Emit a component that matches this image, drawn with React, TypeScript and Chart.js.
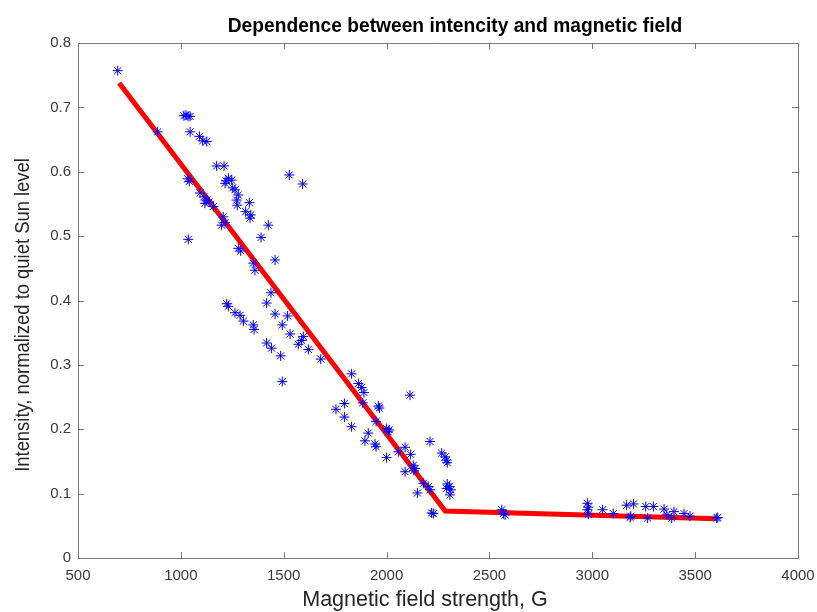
import React, { useEffect, useRef } from "react";
import { Chart, registerables } from "chart.js";

Chart.register(...registerables);

// Measured points: magnetic field strength (G) and normalized intensity
const fieldX = [
  693, 887, 1015, 1025, 1035, 1045, 1045, 1090, 1106, 1126, 1174, 1210, 1033, 1041, 1220, 1231,
  1247, 1215, 1252, 1263, 1279, 1271, 1274, 1093, 1112, 1126, 1117, 1137, 1158, 1333, 1315, 1340,
  1336, 1206, 1198, 1215, 1425, 1390, 1036, 1527, 1592, 1279, 1291, 1352, 1360, 1458, 1438, 1417,
  1223, 1231, 1263, 1288, 1304, 1352, 1356, 1458, 1519, 1493, 1531, 1595, 1587, 1571, 1620, 1417,
  1441, 1485, 1493, 1680, 1830, 1863, 1879, 1890, 1884, 1754, 1795, 1795, 1960, 1965, 2114, 1830,
  1949, 1911, 1895, 1944, 1949, 2000, 2008, 2013, 2000, 2057, 2090, 2117, 2090, 2130, 2138, 2133,
  2211, 2268, 2284, 2292, 2295, 2179, 2203, 2211, 2150, 2219, 2227, 2295, 2305, 2292, 2313, 2308,
  2560, 2568, 2576, 2976, 2981, 2976, 2981, 3050, 3102, 3167, 3200, 3187, 3184, 3260, 3297, 3269,
  3349, 3362, 3386, 3397, 3446, 3475, 3605, 3610,
];
const intensityY = [
  0.757, 0.662, 0.687, 0.688, 0.686, 0.686, 0.662, 0.655, 0.648, 0.647, 0.609, 0.609, 0.589, 0.585, 0.586, 0.59,
  0.587, 0.582, 0.575, 0.572, 0.564, 0.556, 0.548, 0.567, 0.561, 0.556, 0.551, 0.553, 0.546, 0.552, 0.538, 0.533,
  0.528, 0.53, 0.517, 0.521, 0.517, 0.498, 0.495, 0.595, 0.581, 0.481, 0.477, 0.458, 0.447, 0.463, 0.412, 0.396,
  0.395, 0.391, 0.381, 0.377, 0.368, 0.362, 0.355, 0.379, 0.376, 0.362, 0.348, 0.344, 0.338, 0.332, 0.324, 0.334,
  0.326, 0.314, 0.274, 0.309, 0.286, 0.271, 0.265, 0.257, 0.241, 0.231, 0.24, 0.219, 0.236, 0.233, 0.253, 0.204,
  0.212, 0.194, 0.182, 0.177, 0.173, 0.201, 0.196, 0.199, 0.156, 0.165, 0.172, 0.161, 0.134, 0.144, 0.139, 0.136,
  0.181, 0.163, 0.157, 0.152, 0.148, 0.116, 0.111, 0.106, 0.101, 0.07, 0.069, 0.115, 0.111, 0.108, 0.106, 0.098,
  0.075, 0.069, 0.067, 0.085, 0.079, 0.075, 0.068, 0.075, 0.069, 0.082, 0.084, 0.065, 0.063, 0.08, 0.08, 0.062,
  0.076, 0.067, 0.062, 0.072, 0.069, 0.065, 0.062, 0.063,
];

// Piecewise linear fit
const fitX = [700, 2285, 3605];
const fitY = [0.738, 0.073, 0.061];

// Axis ticks
const xTicks = [500, 1000, 1500, 2000, 2500, 3000, 3500, 4000];
const xTickLabels = ["500", "1000", "1500", "2000", "2500", "3000", "3500", "4000"];
const yTicks = [0, 0.1, 0.2, 0.3, 0.4, 0.5, 0.6, 0.7, 0.8];
const yTickLabels = ["0", "0.1", "0.2", "0.3", "0.4", "0.5", "0.6", "0.7", "0.8"];

const titleText = "Dependence between intencity and magnetic field";
const xTitle = "Magnetic field strength, G";
const yTitle = "Intensity, normalized to quiet Sun level";

const SANS = "'Liberation Sans', Arial, sans-serif";
const AXIS_COLOR = "#7a7a7a";

const boxPlugin = {
  id: "boxAndInnerTicks",
  afterDatasetsDraw(chart: any) {
    const { ctx, chartArea } = chart;
    const { left, right, top, bottom } = chartArea;
    const xs = chart.scales.x;
    const ys = chart.scales.y;
    const tl = 6;
    ctx.save();
    ctx.strokeStyle = AXIS_COLOR;
    ctx.lineWidth = 1;
    ctx.beginPath();
    ctx.rect(Math.round(left) + 0.5, Math.round(top) + 0.5, Math.round(right - left), Math.round(bottom - top));
    for (const v of xTicks) {
      const px = Math.round(xs.getPixelForValue(v)) + 0.5;
      ctx.moveTo(px, bottom);
      ctx.lineTo(px, bottom - tl);
      ctx.moveTo(px, top);
      ctx.lineTo(px, top + tl);
    }
    for (const v of yTicks) {
      const py = Math.round(ys.getPixelForValue(v)) + 0.5;
      ctx.moveTo(left, py);
      ctx.lineTo(left + tl, py);
      ctx.moveTo(right, py);
      ctx.lineTo(right - tl, py);
    }
    ctx.stroke();
    ctx.restore();
  },
};

// Title and axis titles, drawn with slight horizontal condensation (MATLAB-like narrow font)
const textPlugin = {
  id: "titles",
  afterDraw(chart: any) {
    const { ctx } = chart;
    ctx.save();
    ctx.textAlign = "center";
    ctx.textBaseline = "alphabetic";

    ctx.save();
    ctx.translate(455, 32);
    ctx.scale(0.96, 1);
    ctx.fillStyle = "#000";
    ctx.font = `bold 20px ${SANS}`;
    ctx.fillText(titleText, 0, 0);
    ctx.restore();

    ctx.save();
    ctx.translate(425, 606);
    ctx.scale(0.98, 1);
    ctx.fillStyle = "#262626";
    ctx.font = `22px ${SANS}`;
    ctx.fillText(xTitle, 0, 0);
    ctx.restore();

    ctx.save();
    ctx.translate(29, 315);
    ctx.rotate(-Math.PI / 2);
    ctx.scale(0.92, 1);
    ctx.fillStyle = "#262626";
    ctx.font = `20px ${SANS}`;
    ctx.fillText(yTitle, 0, 0);
    ctx.restore();

    ctx.restore();
  },
};

export default function App() {
  const ref = useRef<HTMLCanvasElement | null>(null);

  useEffect(() => {
    document.body.style.margin = "0";
    const canvas = ref.current;
    if (!canvas) return;
    const chart = new Chart(canvas, {
      type: "scatter",
      data: {
        datasets: [
          {
            label: "data",
            data: fieldX.map((x, i) => ({ x, y: intensityY[i] })),
            pointStyle: "star",
            pointRadius: 5,
            pointBorderColor: "#0000ff",
            pointBackgroundColor: "#0000ff",
            pointBorderWidth: 1,
            showLine: false,
            order: 0,
          },
          {
            label: "fit",
            type: "line",
            data: fitX.map((x, i) => ({ x, y: fitY[i] })),
            borderColor: "#ff0000",
            borderWidth: 5,
            pointRadius: 0,
            fill: false,
            tension: 0,
            order: 1,
          } as any,
        ],
      },
      options: {
        responsive: false,
        animation: false,
        layout: { padding: { top: 43, right: 19, left: 0, bottom: 0 } },
        plugins: {
          legend: { display: false },
          tooltip: { enabled: false },
          title: { display: false },
        },
        scales: {
          x: {
            type: "linear",
            min: 500,
            max: 4000,
            afterBuildTicks: (scale: any) => {
              scale.ticks = xTicks.map((v) => ({ value: v }));
            },
            afterFit: (scale: any) => {
              scale.height = 54;
              scale.paddingLeft = 0;
              scale.paddingRight = 0;
            },
            ticks: {
              color: "#3a3a3a",
              font: { family: SANS, size: 15 },
              padding: 9,
              maxRotation: 0,
              autoSkip: false,
              callback: (v: any) => xTickLabels[xTicks.indexOf(Number(v))] ?? "",
            },
            grid: { display: false, drawTicks: false },
            border: { display: false },
            title: { display: false },
          },
          y: {
            type: "linear",
            min: 0,
            max: 0.8,
            afterBuildTicks: (scale: any) => {
              scale.ticks = yTicks.map((v) => ({ value: v }));
            },
            afterFit: (scale: any) => {
              scale.width = 78;
              scale.paddingTop = 0;
              scale.paddingBottom = 0;
            },
            ticks: {
              color: "#3a3a3a",
              font: { family: SANS, size: 15 },
              padding: 7,
              autoSkip: false,
              callback: (v: any) => {
                const i = yTicks.findIndex((t) => Math.abs(t - Number(v)) < 1e-9);
                return i >= 0 ? yTickLabels[i] : "";
              },
            },
            grid: { display: false, drawTicks: false },
            border: { display: false },
            title: { display: false },
          },
        },
      },
      plugins: [boxPlugin, textPlugin],
    });
    return () => chart.destroy();
  }, []);

  return (
    <div style={{ position: "absolute", left: 0, top: 0, width: 817, height: 612, background: "#fff" }}>
      <canvas ref={ref} width={817} height={612} />
    </div>
  );
}
